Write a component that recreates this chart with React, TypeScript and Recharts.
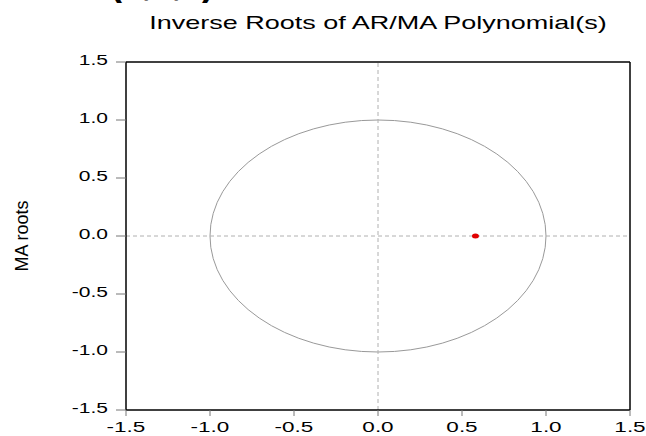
import { ScatterChart, Scatter, XAxis, YAxis, ReferenceLine, ReferenceArea } from "recharts";

// inverse MA root(s)
const rootRe = [0.58];
const rootIm = [0.0];
const roots = rootRe.map((re, i) => ({ re, im: rootIm[i] }));

const axisTicks = [-1.5, -1.0, -0.5, 0.0, 0.5, 1.0, 1.5];
const unitBox = { lo: -1, hi: 1 };

const FONT = '"Liberation Sans", Arial, sans-serif';

const XTick = ({ x, y, payload }: any) => (
  <text
    transform={`translate(${x},${y + 14}) scale(1.5,1)`}
    textAnchor="middle"
    fontFamily={FONT}
    fontSize={15}
    fill="#000"
  >
    {Number(payload.value).toFixed(1)}
  </text>
);

const YTick = ({ x, y, payload }: any) => (
  <text
    transform={`translate(${x},${y + 3}) scale(1.5,1)`}
    textAnchor="end"
    fontFamily={FONT}
    fontSize={14}
    fill="#000"
  >
    {Number(payload.value).toFixed(1)}
  </text>
);

const UnitCircle = (p: any) => (
  <ellipse
    cx={p.x + p.width / 2}
    cy={p.y + p.height / 2}
    rx={Math.abs(p.width) / 2}
    ry={Math.abs(p.height) / 2}
    fill="none"
    stroke="#999"
    strokeWidth={1}
  />
);

const RootDot = (p: any) => <ellipse cx={p.cx} cy={p.cy} rx={3.5} ry={2.5} fill="#e00000" />;

export default function App() {
  return (
    <div style={{ position: "absolute", left: 0, top: 0, width: 646, height: 436, overflow: "hidden", background: "#fff" }}>
      <div
        style={{
          position: "absolute", left: 110, top: -35, fontFamily: FONT, fontWeight: "bold",
          fontSize: 36, lineHeight: "36px", whiteSpace: "nowrap", color: "#000",
        }}
      >
        (0,1,1) Model
      </div>
      <div
        style={{
          position: "absolute", left: 378, top: 13, fontFamily: FONT, fontSize: 19,
          lineHeight: "20px", whiteSpace: "nowrap", color: "#000",
          transform: "translateX(-50%) scaleX(1.42)",
        }}
      >
        Inverse Roots of AR/MA Polynomial(s)
      </div>
      <ScatterChart width={646} height={436} margin={{ top: 62, right: 16, bottom: 0, left: 0 }}>
        <XAxis
          type="number"
          dataKey="re"
          domain={[-1.5, 1.5]}
          ticks={axisTicks}
          allowDataOverflow
          height={26}
          axisLine={{ stroke: "#000", strokeWidth: 1.5 }}
          tickLine={{ stroke: "#777" }}
          tickSize={6}
          tickMargin={2}
          tick={<XTick />}
        />
        <YAxis
          type="number"
          dataKey="im"
          domain={[-1.5, 1.5]}
          ticks={axisTicks}
          allowDataOverflow
          width={126}
          axisLine={{ stroke: "#000", strokeWidth: 1.5 }}
          tickLine={{ stroke: "#777" }}
          tickSize={10}
          tickMargin={8}
          tick={<YTick />}
          label={{
            value: "MA roots",
            angle: -90,
            position: "insideLeft",
            offset: 22,
            style: { fontFamily: '"Liberation Sans Narrow", "Liberation Sans", Arial, sans-serif', fontSize: 18, fill: "#000", textAnchor: "middle" },
          }}
        />
        <ReferenceLine x={0} stroke="#b0b0b0" strokeDasharray="4 3" />
        <ReferenceLine y={0} stroke="#b0b0b0" strokeDasharray="4 3" />
        <ReferenceLine x={1.5} stroke="#000" strokeWidth={1.5} />
        <ReferenceLine y={1.5} stroke="#000" strokeWidth={1.5} />
        <ReferenceArea x1={unitBox.lo} x2={unitBox.hi} y1={unitBox.lo} y2={unitBox.hi} shape={<UnitCircle />} />
        <Scatter data={roots} shape={<RootDot />} isAnimationActive={false} />
      </ScatterChart>
    </div>
  );
}
